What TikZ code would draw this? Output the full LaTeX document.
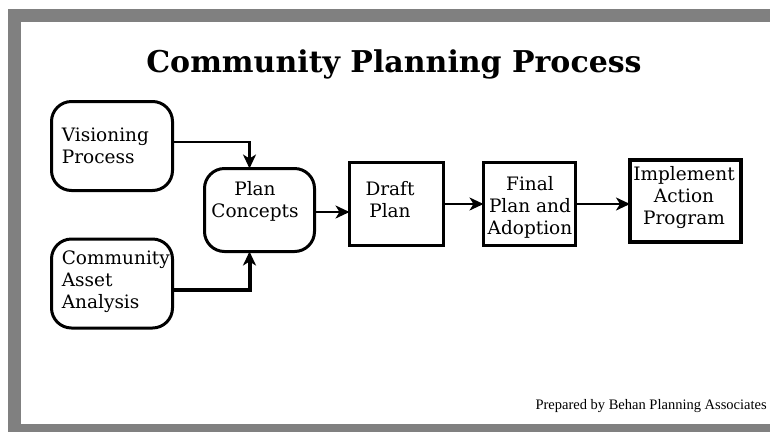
\documentclass[tikz,border=0pt]{standalone}
\usepackage{fontspec}
\setmainfont{DejaVu Serif}
\newfontfamily\footfont{Liberation Serif}
\usetikzlibrary{arrows.meta}

\begin{document}
\begin{tikzpicture}[x=1pt, y=-1pt,
  every node/.style={outer sep=0pt},
  rbox/.style={draw, line width=3pt, rounded corners=20pt, minimum width=121pt, minimum height=89pt},
  sbox/.style={draw, line width=3pt, minimum width=94pt, minimum height=83pt},
  txt/.style={font=\fontsize{18.5}{22}\selectfont},
  arr/.style={line width=2.2pt, -{Stealth[length=14pt, width=13pt, inset=4pt]}}]
\useasboundingbox (0,0) rectangle (770,432);
\fill[gray] (8,9) rectangle (770,432);
\fill[white] (21,22) rectangle (770,424);

\node (title) at (394,64) {\fontsize{30}{36}\selectfont\bfseries Community Planning Process};

\node[rbox] (vis) at (112,146) {};
\node[rbox] (asset) at (112,283.5) {};
\node[rbox, minimum width=110pt, minimum height=83pt] (plan) at (259.5,210) {};
\node[sbox] (draft) at (396.5,204) {};
\node[sbox, minimum width=92pt] (final) at (529.5,204) {};
\node[sbox, line width=4pt, minimum width=111pt, minimum height=82pt] (impl) at (685.5,201) {};

\node[txt, align=left, anchor=west] (vis-txt) at ([xshift=7pt]vis.west) {Visioning\\Process};
\node[txt, align=left, anchor=west] (asset-txt) at ([xshift=7pt, yshift=2pt]asset.west) {Community\\Asset\\Analysis};
\node[txt, align=center] (plan-txt) at (255,201) {Plan\\Concepts};
\node[txt, align=center] (draft-txt) at (390,200) {Draft\\Plan};
\node[txt, align=center] (final-txt) at (530,207) {Final\\Plan and\\Adoption};
\node[txt, align=center] (impl-txt) at (684,198) {Implement\\Action\\Program};

\draw[arr] ([yshift=4pt]vis.east) -| ([xshift=-10pt]plan.north);
\draw[arr, line width=4pt] ([yshift=-6pt]asset.east) -| ([xshift=-10pt]plan.south);
\draw[arr] ([yshift=-2pt]plan.east) -- ([yshift=-8pt]draft.west);
\draw[arr] (draft.east) -- (final.west);
\draw[arr] (final.east) -- (final.east -| impl.west);

\node[anchor=base east] (credit) at (770,409) {\footfont\fontsize{14.5}{17}\selectfont Prepared by Behan Planning Associates};
\end{tikzpicture}
\end{document}
